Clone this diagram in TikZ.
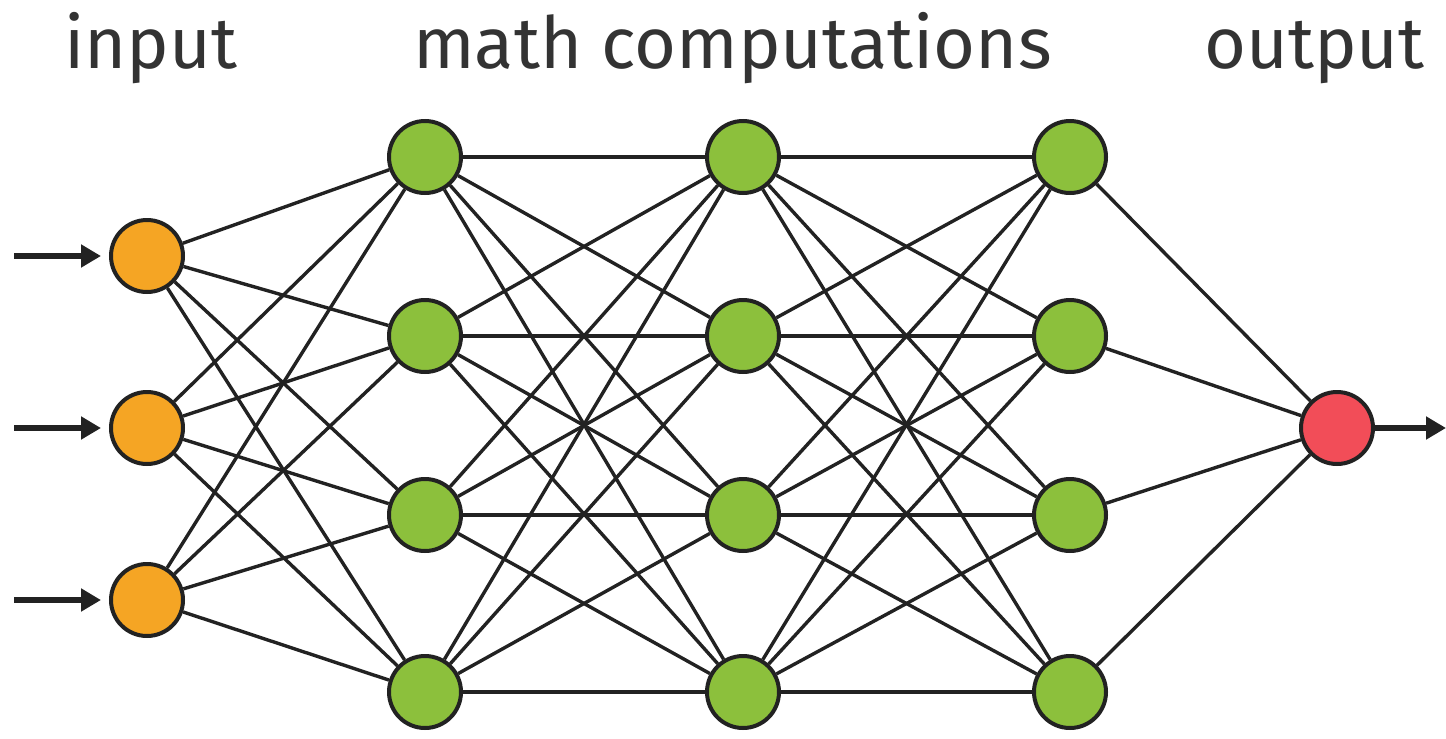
\documentclass[tikz,border=0pt]{standalone}
\usepackage{fontspec}
\setmainfont{Fira Sans}
\usetikzlibrary{arrows.meta}
\definecolor{inorange}{HTML}{F5A524}
\definecolor{hidgreen}{HTML}{8CC03C}
\definecolor{outred}{HTML}{F24D58}
\definecolor{edgegray}{HTML}{222222}
\definecolor{txtgray}{HTML}{333333}
\tikzset{
  neuron/.style={circle, draw=edgegray, line width=4pt, minimum size=72pt, inner sep=0pt},
  innode/.style={neuron, fill=inorange},
  hidnode/.style={neuron, fill=hidgreen},
  outnode/.style={neuron, fill=outred},
  conn/.style={draw=edgegray, line width=3.4pt},
  sig/.style={draw=edgegray, line width=6.5pt, -{Triangle[length=20pt,width=22pt]}},
  title/.style={font=\fontsize{72}{80}\selectfont, text=txtgray, anchor=base west, inner sep=0pt}
}
\begin{document}
\begin{tikzpicture}[x=1pt,y=-1pt]
\useasboundingbox (0,0) rectangle (1446,739);
\node[title] (tin) at (64,68) {input};
\node[title] (tmath) at (413,68) {math computations};
\node[title] (tout) at (1204,68) {output};
% nodes
\foreach \i/\y in {1/256,2/428,3/600} \node[innode] (i\i) at (147,\y) {};
\foreach \i/\y in {1/157,2/336,3/515,4/692} {
  \node[hidnode] (a\i) at (425,\y) {};
  \node[hidnode] (b\i) at (743,\y) {};
  \node[hidnode] (c\i) at (1070,\y) {};
}
\node[outnode] (o) at (1337,428) {};
% connections
\foreach \i in {1,2,3} \foreach \j in {1,2,3,4} \draw[conn] (i\i) -- (a\j);
\foreach \i in {1,2,3,4} \foreach \j in {1,2,3,4} {\draw[conn] (a\i) -- (b\j); \draw[conn] (b\i) -- (c\j);}
\foreach \i in {1,2,3,4} \draw[conn] (c\i) -- (o);
% input arrows
\foreach \i in {1,2,3} {
  \coordinate (s\i) at (14,0 |- i\i);
  \draw[sig] (s\i) -- ([xshift=-8pt]i\i.west);
}
\coordinate (oe) at (1446,428);
\draw[sig] (o.east) -- (oe);
\end{tikzpicture}
\end{document}
